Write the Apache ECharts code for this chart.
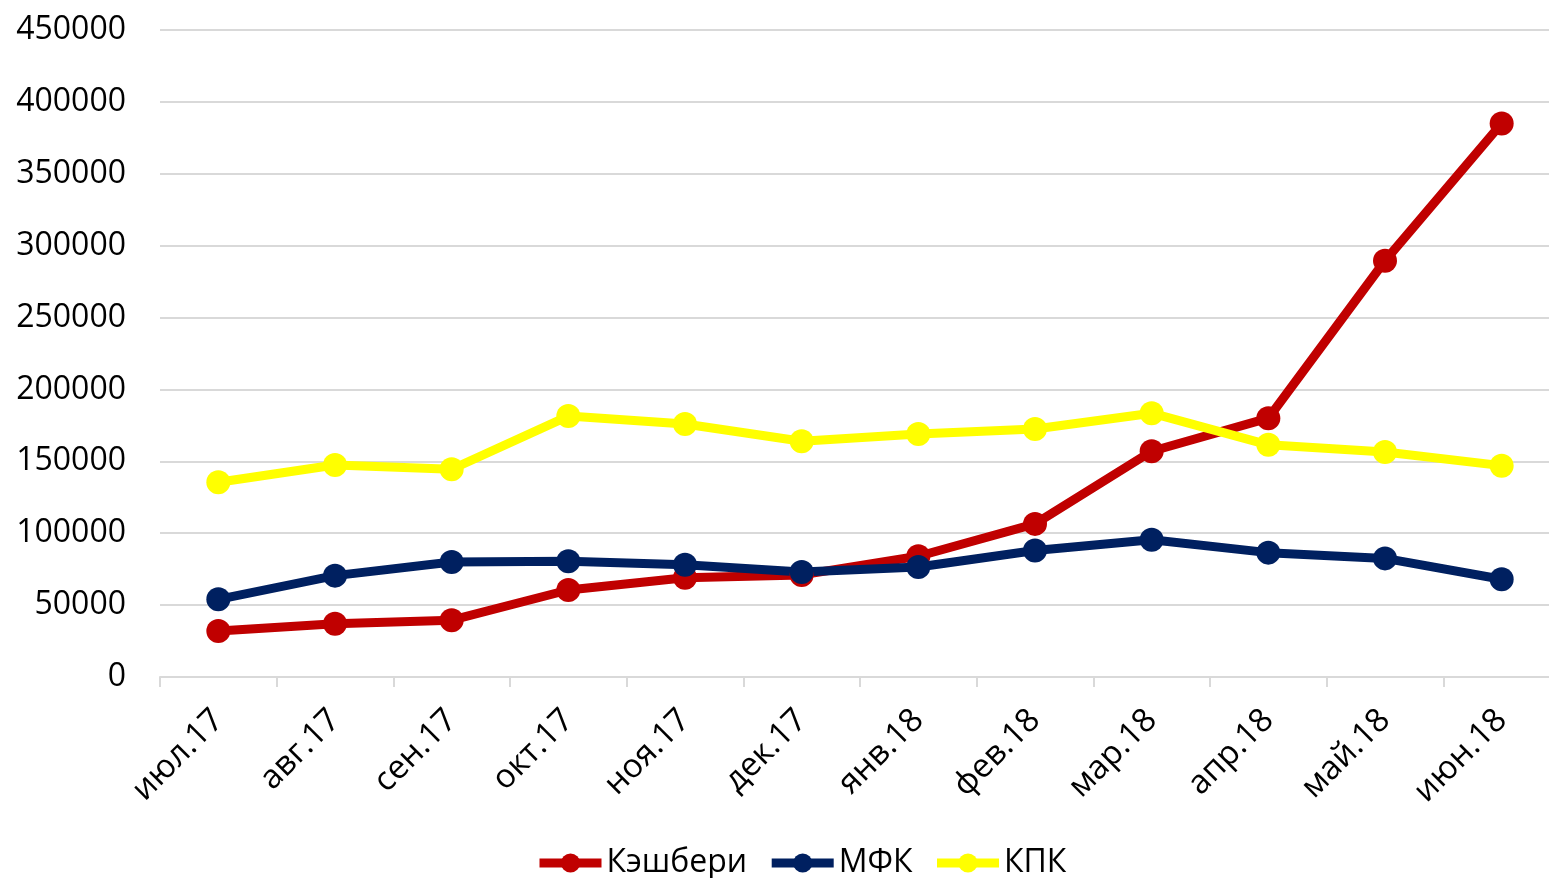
<!DOCTYPE html>
<html>
<head>
<meta charset="utf-8">
<script src="https://cdn.jsdelivr.net/npm/echarts@6/dist/echarts.min.js"></script>
<style>
  html, body { margin: 0; padding: 0; background: #fff; }
  #myChart { width: 1549px; height: 878px; }
</style>
</head>
<body>
<div id="myChart"></div>
<script>
// месяцы
const months = ['июл.17', 'авг.17', 'сен.17', 'окт.17', 'ноя.17', 'дек.17', 'янв.18', 'фев.18', 'мар.18', 'апр.18', 'май.18', 'июн.18'];
const cashberi = [32000, 37000, 39500, 60500, 69000, 71000, 84000, 106500, 157000, 180000, 289500, 385000];
const mfk = [54000, 70500, 80000, 80500, 78000, 73000, 76500, 88000, 95500, 86500, 82500, 68000];
const kpk = [135500, 147500, 144500, 181500, 176000, 164000, 169000, 172500, 183500, 161500, 156500, 147000];

const font = '"Open Sans", "Noto Sans", sans-serif';

let myChart = echarts.init(document.getElementById('myChart'));

function line(name, data, color) {
  return {
    name: name,
    type: 'line',
    data: data,
    symbol: 'circle',
    symbolSize: 24,
    lineStyle: { width: 9, color: color },
    itemStyle: { color: color },
    emphasis: { disabled: true }
  };
}

myChart.setOption({
  animation: false,
  backgroundColor: '#fff',
  legend: {
    bottom: -6,
    left: 530,
    itemWidth: 62,
    itemHeight: 24,
    itemGap: 20,
    lineStyle: { width: 9 },
    textStyle: { color: '#000', fontSize: 32, fontFamily: font },
    data: ['Кэшбери', 'МФК', 'КПК']
  },
  grid: {
    left: 160,
    top: 30,
    width: 1400,
    height: 647,
    outerBoundsMode: 'none',
    containLabel: false
  },
  xAxis: {
    type: 'category',
    data: months,
    boundaryGap: true,
    axisLine: { lineStyle: { color: '#d9d9d9', width: 2 } },
    axisTick: { show: true, length: 10, lineStyle: { color: '#d9d9d9', width: 2 } },
    axisLabel: {
      color: '#000',
      fontSize: 33,
      fontFamily: font,
      rotate: 45,
      margin: 38
    }
  },
  yAxis: {
    type: 'value',
    min: 0,
    max: 450000,
    interval: 50000,
    axisLine: { show: false },
    axisTick: { show: false },
    splitLine: { lineStyle: { color: '#d9d9d9', width: 2 } },
    axisLabel: {
      color: '#000',
      fontSize: 32,
      fontFamily: font,
      margin: 34,
      formatter: function (v) { return String(v); }
    }
  },
  series: [
    line('Кэшбери', cashberi, '#c00000'),
    line('МФК', mfk, '#002060'),
    line('КПК', kpk, '#ffff00')
  ]
});
</script>
</body>
</html>
